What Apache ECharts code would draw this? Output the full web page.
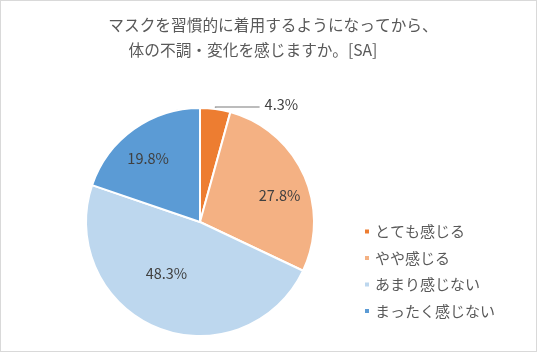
<!DOCTYPE html>
<html>
<head>
<meta charset="utf-8">
<script src="https://cdn.jsdelivr.net/npm/echarts@6/dist/echarts.min.js"></script>
<style>
html,body{margin:0;padding:0;background:#fff;}
#frame{position:absolute;left:0;top:0;width:535px;height:350px;border:1px solid #d9d9d9;}
#chart{position:absolute;left:0;top:0;width:539px;height:353px;}
</style>
</head>
<body>
<div id="frame"></div>
<div id="chart"></div>
<script>
const titleLines = ['マスクを習慣的に着用するようになってから、', '体の不調・変化を感じますか。[SA]'];
const categories = ['とても感じる', 'やや感じる', 'あまり感じない', 'まったく感じない'];
const values = [4.3, 27.8, 48.3, 19.8];
const colors = ['#ED7D31', '#F4B183', '#BDD7EE', '#5B9BD5'];
const labelShift = [[0, -3], [25, -2], [-11, -4], [-17, -15]];

const chart = echarts.init(document.getElementById('chart'), null, {renderer: 'canvas'});
const font = '"Noto Sans CJK JP", "Noto Sans", sans-serif';

const data = categories.map((c, i) => ({
  name: c,
  value: values[i],
  itemStyle: {color: colors[i]},
  label: i === 0 ? {position: 'outside'} : {position: 'inside'},
  labelLine: i === 0 ? {show: true} : {show: false}
}));

chart.setOption({
  animation: false,
  title: [
    {text: titleLines[0], left: 268, top: 12, textAlign: 'center',
     textStyle: {fontSize: 15.7, fontWeight: 'normal', color: '#595959', fontFamily: font}},
    {text: titleLines[1], left: 248, top: 37, textAlign: 'center',
     textStyle: {fontSize: 15.7, fontWeight: 'normal', color: '#595959', fontFamily: font}}
  ],
  legend: {
    orient: 'vertical',
    left: 358,
    top: 219,
    icon: 'rect',
    itemWidth: 6,
    itemHeight: 6,
    itemGap: 11.5,
    data: categories,
    textStyle: {fontSize: 15, color: '#595959', fontFamily: font}
  },
  series: [{
    type: 'pie',
    center: [200, 222],
    radius: [0, 114],
    startAngle: 90,
    clockwise: true,
    itemStyle: {borderColor: '#fff', borderWidth: 2},
    label: {
      show: true,
      formatter: p => p.value.toFixed(1) + '%',
      fontSize: 14.5,
      color: '#404040',
      fontFamily: font
    },
    labelLine: {length: 2, length2: 44, smooth: false, lineStyle: {color: '#a6a6a6', width: 1.5}},
    labelLayout: function (params) {
      const s = labelShift[params.dataIndex];
      return {dx: s[0], dy: s[1]};
    },
    data: data
  }]
});
</script>
</body>
</html>
